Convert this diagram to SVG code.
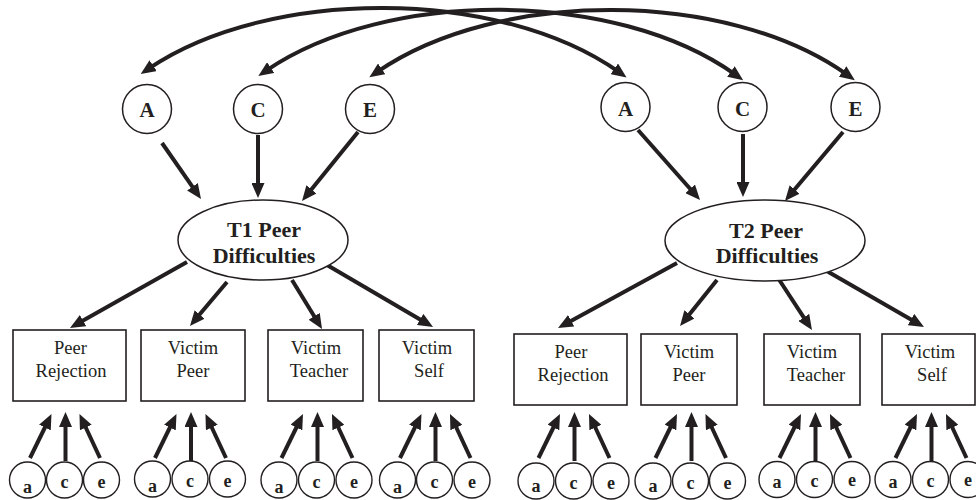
<svg xmlns="http://www.w3.org/2000/svg" width="976" height="500" viewBox="0 0 976 500">
<defs>
<style>
.bg{fill:#ffffff}
.conn path{fill:none;stroke:#231f20;stroke-width:4}
.arc{marker-start:url(#ah);marker-end:url(#ah)}
.ar{marker-end:url(#ah)}
.lat circle,.lat ellipse{fill:#ffffff;stroke:#231f20;stroke-width:1.5}
.box rect{fill:#ffffff;stroke:#231f20;stroke-width:1.6}
.sm circle{fill:#ffffff;stroke:#231f20;stroke-width:1.4}
text{fill:#231f20;text-anchor:middle}
.big{font-family:"Liberation Serif","Times New Roman",serif;font-weight:bold;font-size:21px}
.el{font-family:"Liberation Serif","Times New Roman",serif;font-weight:bold;font-size:22px}
.lbl{font-family:"Liberation Serif","Times New Roman",serif;font-size:18.5px}
.sl{font-family:"Liberation Serif","Times New Roman",serif;font-weight:bold;font-size:18px}
</style>
<marker id="ah" markerUnits="userSpaceOnUse" markerWidth="15" markerHeight="13" refX="5" refY="6.5" orient="auto-start-reverse">
<path d="M0,0 L15,6.5 L0,13 z" fill="#231f20"/>
</marker>
</defs>
<rect class="bg" x="0" y="0" width="976" height="500"/>

<g id="connectors" class="conn">
<path class="arc" d="M149,68.4 C269,-12.7 498.4,-12.7 618.4,71.7"/>
<path class="arc" d="M266.6,70.4 C386.6,-11 615,-11 735,74.4"/>
<path class="arc" d="M377.6,71.7 C497.6,-11 726.7,-11 846.7,74.4"/>
<path class="ar" d="M162,143 L195.3,190.8"/>
<path class="ar" d="M258,135 L258,188"/>
<path class="ar" d="M358,132 L308.3,193.2"/>
<path class="ar" d="M638,130 L693.4,192.5"/>
<path class="ar" d="M743,134 L743,187"/>
<path class="ar" d="M843,132 L791.4,193.3"/>
<path class="ar" d="M187,262 L78.7,323.1"/>
<path class="ar" d="M227,282 L196.4,318.3"/>
<path class="ar" d="M292,280 L316.8,320.5"/>
<path class="ar" d="M327,265 L424.4,322"/>
<path class="ar" d="M677,263 L566.8,323.2"/>
<path class="ar" d="M717,280 L686.3,318.2"/>
<path class="ar" d="M778,278 L806.5,321.6"/>
<path class="ar" d="M825,270 L915.3,322"/>
<path class="ar" d="M30,458 L47.1,423"/><path class="ar" d="M65.5,461 L65.5,422"/><path class="ar" d="M100,458 L83.7,423"/>
<path class="ar" d="M155,458 L172.1,423"/><path class="ar" d="M191,461 L191,422"/><path class="ar" d="M226,458 L209.7,423"/>
<path class="ar" d="M281.5,458 L298.6,423"/><path class="ar" d="M317.5,461 L317.5,422"/><path class="ar" d="M352.5,458 L336.2,423"/>
<path class="ar" d="M400,458 L417.1,423"/><path class="ar" d="M435.5,461 L435.5,422"/><path class="ar" d="M470.5,458 L454.2,423"/>
<path class="ar" d="M538.5,458 L555.6,423"/><path class="ar" d="M574.5,461 L574.5,422"/><path class="ar" d="M609.5,458 L593.2,423"/>
<path class="ar" d="M655.5,458 L672.6,423"/><path class="ar" d="M691.5,461 L691.5,422"/><path class="ar" d="M726,458 L709.7,423"/>
<path class="ar" d="M779.5,458 L796.6,423"/><path class="ar" d="M815.5,461 L815.5,422"/><path class="ar" d="M850.5,458 L834.2,423"/>
<path class="ar" d="M895.5,458 L912.6,423"/><path class="ar" d="M931.5,461 L931.5,422"/><path class="ar" d="M966.5,458 L950.2,423"/>
</g>

<g id="T1_A" class="lat"><circle cx="147" cy="109" r="24.5"/><text class="big" x="147" y="117">A</text></g>
<g id="T1_C" class="lat"><circle cx="258" cy="109" r="24.5"/><text class="big" x="258" y="117">C</text></g>
<g id="T1_E" class="lat"><circle cx="370" cy="109" r="24.5"/><text class="big" x="370" y="117">E</text></g>
<g id="T2_A" class="lat"><circle cx="625.5" cy="107" r="24.5"/><text class="big" x="625.5" y="115.5">A</text></g>
<g id="T2_C" class="lat"><circle cx="742.5" cy="107" r="24.5"/><text class="big" x="742.5" y="115.5">C</text></g>
<g id="T2_E" class="lat"><circle cx="855.5" cy="107" r="24.5"/><text class="big" x="855.5" y="115.5">E</text></g>

<g id="T1_PD" class="lat"><ellipse cx="263" cy="240" rx="85" ry="40"/><text class="el" x="264" y="237">T1 Peer</text><text class="el" x="264" y="263">Difficulties</text></g>
<g id="T2_PD" class="lat"><ellipse cx="765" cy="240.5" rx="100" ry="40.5"/><text class="el" x="766" y="238">T2 Peer</text><text class="el" x="767" y="263">Difficulties</text></g>

<g id="T1_PR" class="box"><rect x="13" y="330" width="113" height="71"/><text class="lbl" x="70.5" y="354">Peer</text><text class="lbl" x="71" y="377">Rejection</text></g>
<g id="T1_VP" class="box"><rect x="141" y="330" width="104" height="71"/><text class="lbl" x="193" y="354">Victim</text><text class="lbl" x="193" y="377">Peer</text></g>
<g id="T1_VT" class="box"><rect x="268" y="330" width="95" height="71"/><text class="lbl" x="316" y="354">Victim</text><text class="lbl" x="319" y="377">Teacher</text></g>
<g id="T1_VS" class="box"><rect x="379" y="330" width="95" height="71"/><text class="lbl" x="427" y="354">Victim</text><text class="lbl" x="429" y="377">Self</text></g>
<g id="T2_PR" class="box"><rect x="514" y="334" width="113" height="71"/><text class="lbl" x="571" y="358">Peer</text><text class="lbl" x="573" y="381">Rejection</text></g>
<g id="T2_VP" class="box"><rect x="641" y="334" width="96" height="71"/><text class="lbl" x="689" y="358">Victim</text><text class="lbl" x="689" y="381">Peer</text></g>
<g id="T2_VT" class="box"><rect x="764" y="334" width="96" height="71"/><text class="lbl" x="812" y="358">Victim</text><text class="lbl" x="816" y="381">Teacher</text></g>
<g id="T2_VS" class="box"><rect x="882" y="334" width="93" height="71"/><text class="lbl" x="930" y="358">Victim</text><text class="lbl" x="932" y="381">Self</text></g>

<g id="T1_PR_ace" class="sm">
<circle cx="27.5" cy="480" r="18"/><text class="sl" x="27.5" y="493">a</text>
<circle cx="64.5" cy="480" r="18"/><text class="sl" x="64.5" y="488">c</text>
<circle cx="101.5" cy="480" r="18"/><text class="sl" x="101.5" y="488">e</text>
</g>
<g id="T1_VP_ace" class="sm">
<circle cx="152.5" cy="479" r="18"/><text class="sl" x="152.5" y="492">a</text>
<circle cx="190" cy="479" r="18"/><text class="sl" x="190" y="487">c</text>
<circle cx="227.5" cy="479" r="18"/><text class="sl" x="227.5" y="487">e</text>
</g>
<g id="T1_VT_ace" class="sm">
<circle cx="279" cy="480" r="18"/><text class="sl" x="279" y="493">a</text>
<circle cx="316.5" cy="480" r="18"/><text class="sl" x="316.5" y="488">c</text>
<circle cx="354" cy="480" r="18"/><text class="sl" x="354" y="488">e</text>
</g>
<g id="T1_VS_ace" class="sm">
<circle cx="397.5" cy="480" r="18"/><text class="sl" x="397.5" y="493">a</text>
<circle cx="434.5" cy="480" r="18"/><text class="sl" x="434.5" y="488">c</text>
<circle cx="472" cy="480" r="18"/><text class="sl" x="472" y="488">e</text>
</g>
<g id="T2_PR_ace" class="sm">
<circle cx="536" cy="481" r="18"/><text class="sl" x="536" y="492">a</text>
<circle cx="573.5" cy="481" r="18"/><text class="sl" x="573.5" y="489">c</text>
<circle cx="611" cy="481" r="18"/><text class="sl" x="611" y="489">e</text>
</g>
<g id="T2_VP_ace" class="sm">
<circle cx="653" cy="481" r="18"/><text class="sl" x="653" y="492">a</text>
<circle cx="690.5" cy="481" r="18"/><text class="sl" x="690.5" y="489">c</text>
<circle cx="727.5" cy="481" r="18"/><text class="sl" x="727.5" y="489">e</text>
</g>
<g id="T2_VT_ace" class="sm">
<circle cx="777" cy="479.5" r="18"/><text class="sl" x="777" y="488">a</text>
<circle cx="814.5" cy="479.5" r="18"/><text class="sl" x="814.5" y="487">c</text>
<circle cx="852" cy="479.5" r="18"/><text class="sl" x="852" y="486">e</text>
</g>
<g id="T2_VS_ace" class="sm">
<circle cx="893" cy="479.5" r="18"/><text class="sl" x="893" y="488">a</text>
<circle cx="930.5" cy="479.5" r="18"/><text class="sl" x="930.5" y="487">c</text>
<circle cx="968" cy="479.5" r="18"/><text class="sl" x="968" y="486">e</text>
</g>
</svg>
